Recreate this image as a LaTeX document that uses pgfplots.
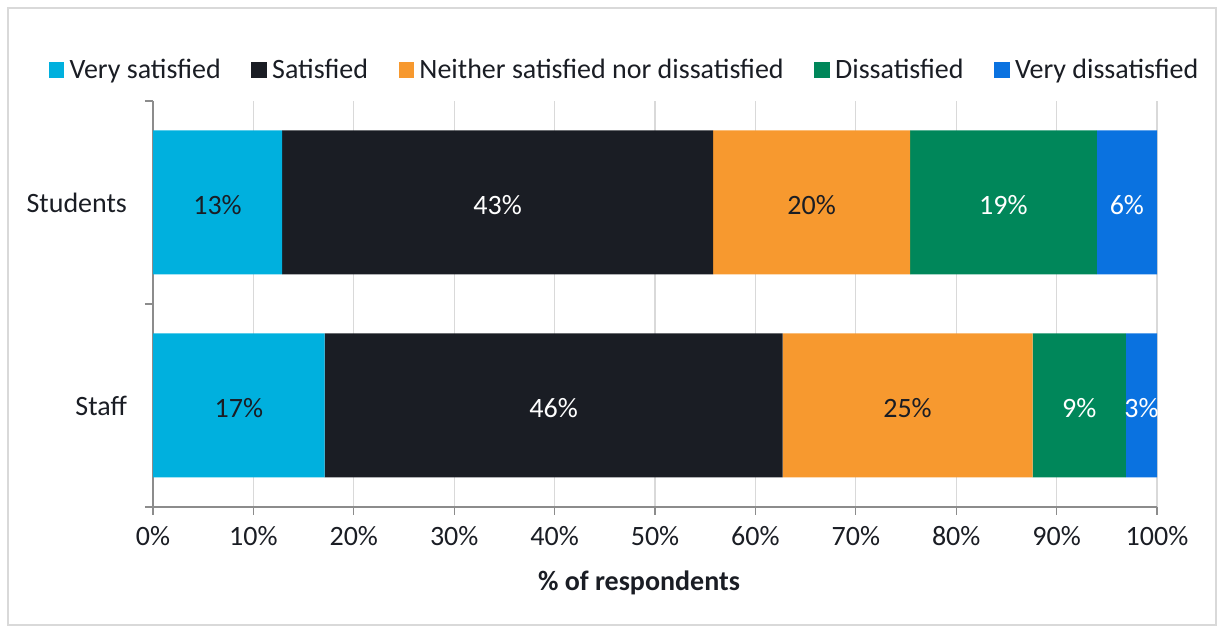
\documentclass[border=0pt]{standalone}
\usepackage{fontspec}
\setmainfont{Carlito}
\usepackage{pgfplots}
\pgfplotsset{compat=1.18}
\definecolor{cVS}{HTML}{00B0DE}
\definecolor{cS}{HTML}{1A1D24}
\definecolor{cN}{HTML}{F7992F}
\definecolor{cD}{HTML}{00875A}
\definecolor{cVD}{HTML}{0A72E0}
\definecolor{axisgray}{HTML}{8C8C8C}
\definecolor{gridgray}{HTML}{D9D9D9}
\definecolor{txt}{HTML}{1A1D24}
\begin{document}
\begin{tikzpicture}
\path (0,0) rectangle (917.25pt,472.5pt);
\draw[gridgray, line width=0.8pt] (6pt,3.75pt) rectangle (912pt,466.5pt);
\begin{axis}[
  at={(114.75pt,92.25pt)}, anchor=south west,
  scale only axis, width=753pt, height=304.5pt,
  xbar stacked, bar width=108pt,
  xmin=0, xmax=100, ymin=-0.5, ymax=1.5,
  axis x line*=bottom, axis y line*=left,
  axis line style={draw=axisgray, line width=0.8pt, -},
  /pgf/number format/assume math mode=true,
  xtick={0,10,...,100},
  xticklabel={\pgfmathprintnumber{\tick}\%},
  xticklabel style={yshift=-5pt},
  xmajorgrids, grid style={draw=gridgray, line width=0.8pt},
  tick align=outside, major tick length=6pt,
  tick style={draw=axisgray, line width=0.8pt},
  ytick={-0.5,0.5,1.5}, yticklabels={},
  extra y ticks={0,1}, extra y tick labels={Staff,Students},
  extra y tick style={major tick length=0pt},
  yticklabel style={xshift=-16pt},
  ymajorgrids=false,
  tick label style={font=\fontsize{21}{25}\selectfont, text=txt},
  xlabel={\textbf{\% of respondents}},
  xlabel style={font=\fontsize{21}{25}\selectfont, text=txt, xshift=-12pt, yshift=-12pt},
  legend style={at={(0.470,1.076)}, anchor=center, legend columns=-1, draw=none, fill=none,
    font=\fontsize{21}{25}\selectfont, text=txt,
    /tikz/every odd column/.append style={column sep=2pt},
    /tikz/every even column/.append style={column sep=21pt}},
  legend image code/.code={\fill[#1] (0pt,-5.8pt) rectangle (11.6pt,5.8pt);},
  point meta=explicit symbolic,
  nodes near coords={\pgfplotspointmeta\%},
  every node near coord/.append style={anchor=center, yshift=-2pt, font=\fontsize{21}{25}\selectfont},
]
\addplot[fill=cVS, draw=none, every node near coord/.append style={text=txt}] coordinates {(17.1,0) [17] (12.85,1) [13]};
\addplot[fill=cS, draw=none, every node near coord/.append style={text=white}] coordinates {(45.6,0) [46] (42.95,1) [43]};
\addplot[fill=cN, draw=none, every node near coord/.append style={text=txt}] coordinates {(24.9,0) [25] (19.6,1) [20]};
\addplot[fill=cD, draw=none, every node near coord/.append style={text=white}] coordinates {(9.3,0) [9] (18.6,1) [19]};
\addplot[fill=cVD, draw=none, every node near coord/.append style={text=white}] coordinates {(3.1,0) [3] (6.0,1) [6]};
\legend{Very satisfied, Satisfied, Neither satisfied nor dissatisfied, Dissatisfied, Very dissatisfied}
\end{axis}
\end{tikzpicture}
\end{document}
